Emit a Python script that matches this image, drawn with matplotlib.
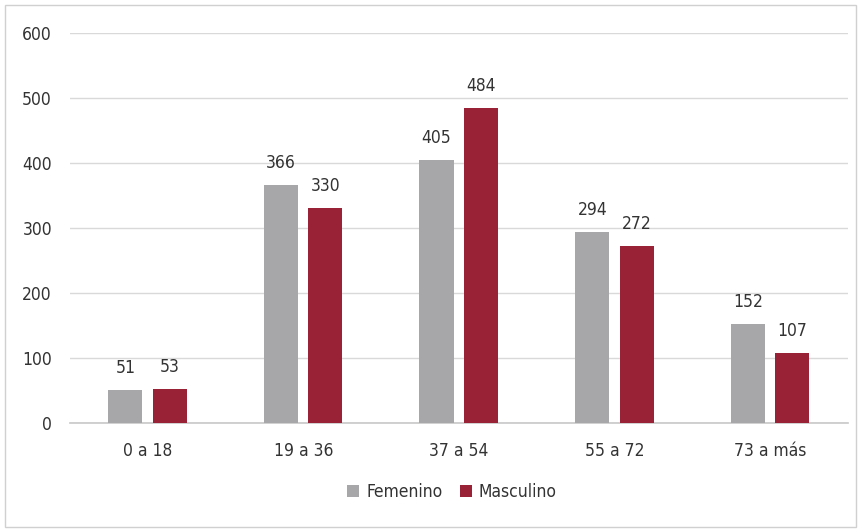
import matplotlib.pyplot as plt
from matplotlib.patches import Rectangle
import numpy as np

categories = ["0 a 18", "19 a 36", "37 a 54", "55 a 72", "73 a más"]
femenino = [51, 366, 405, 294, 152]
masculino = [53, 330, 484, 272, 107]

grey = "#a7a7aa"
maroon = "#9a2236"
txt = "#333333"
plt.rcParams['font.family'] = ['DejaVu Sans']
plt.rcParams['font.stretch'] = 'condensed'

fig = plt.figure(figsize=(8.61, 5.31), dpi=100)
ax = fig.add_axes([0.0813, 0.2034, 0.904, 0.7345])

x = np.arange(len(categories))
w = 0.22
b1 = ax.bar(x - 0.145, femenino, w, color=grey, zorder=3)
b2 = ax.bar(x + 0.14, masculino, w, color=maroon, zorder=3)

for bars in (b1, b2):
    for r in bars:
        ax.text(r.get_x() + r.get_width() / 2, r.get_height() + 20, str(int(r.get_height())),
                ha='center', va='bottom', fontsize=12.5, color=txt)

ax.set_xlim(-0.5, len(categories) - 0.5)
ax.set_ylim(0, 600)
ax.set_yticks(range(0, 601, 100))
ax.set_xticks(x)
ax.set_xticklabels(categories)
ax.tick_params(length=0, labelsize=12.5, colors=txt)
ax.tick_params(axis='x', pad=14)
ax.tick_params(axis='y', pad=13)
ax.grid(axis='y', color='#d9d9d9', linewidth=1, zorder=0)
ax.axhline(0, color='#c8c8c8', linewidth=1.2, zorder=2, clip_on=False)
for s in ax.spines.values():
    s.set_visible(False)

fig.legend([b1, b2], ["Femenino", "Masculino"], loc='center', bbox_to_anchor=(0.525, 0.073),
           ncol=2, frameon=False, fontsize=12.5, handlelength=0.7, handleheight=0.7,
           handletextpad=0.4, columnspacing=1.0, labelcolor=txt)

fig.patches.append(Rectangle((0.006, 0.008), 0.988, 0.982, transform=fig.transFigure,
                             fill=False, edgecolor='#d0d0d0', linewidth=1))

fig.savefig("out.png", dpi=100)
